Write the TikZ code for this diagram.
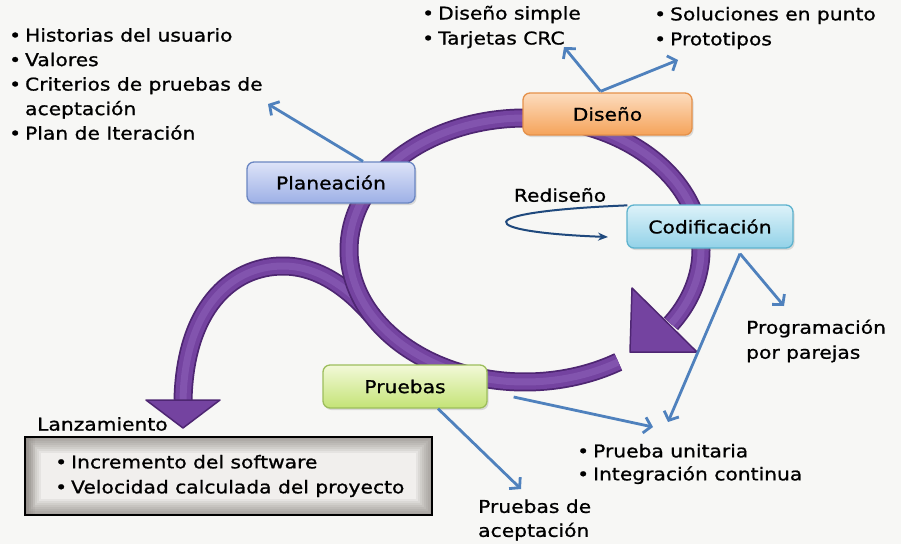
\documentclass[tikz,border=0pt]{standalone}
\usepackage{fontspec}
\setmainfont{DejaVu Sans}[FakeStretch=1.15, FakeBold=1.0]
\usetikzlibrary{arrows.meta,calc,shadows}
\definecolor{bg}{HTML}{F7F7F5}
\definecolor{tubedark}{HTML}{4E2672}
\definecolor{tubemid}{HTML}{7443A0}
\definecolor{tubelight}{HTML}{8254AE}
\definecolor{arrowblue}{HTML}{4F81BD}
\definecolor{navy}{HTML}{1F497D}
\definecolor{plantop}{HTML}{DDE3F8}
\definecolor{planbot}{HTML}{9DB0E6}
\definecolor{planline}{HTML}{6A86C2}
\definecolor{distop}{HTML}{FCDCBE}
\definecolor{disbot}{HTML}{F5A35A}
\definecolor{disline}{HTML}{E5914A}
\definecolor{codtop}{HTML}{DDF2F9}
\definecolor{codbot}{HTML}{92D2E8}
\definecolor{codline}{HTML}{5EB3CE}
\definecolor{prutop}{HTML}{F2F9D8}
\definecolor{prubot}{HTML}{C4E376}
\definecolor{pruline}{HTML}{9DBE5C}
\definecolor{lzin}{HTML}{F1EFED}
\definecolor{lzout}{HTML}{5A534D}
\newcommand\bul{\textbullet\hspace{4pt}}
\begin{document}
\begin{tikzpicture}[x=1pt,y=-1pt,
  lbl/.style={inner sep=0pt, align=left, anchor=west, text=black},
  stage/.style={rounded corners=7pt, draw, line width=1.3pt, inner sep=0pt,
    font=\fontsize{17.6}{21}\selectfont,
    drop shadow={opacity=0.25,shadow xshift=1.5pt,shadow yshift=-2pt}},
  tube/.style={line width=19pt, draw=tubedark,
    postaction={draw=tubemid, line width=15.5pt},
    postaction={draw=tubelight, line width=7pt}},
  tubehead/.style={fill=tubemid, draw=tubedark, line width=1.5pt, line join=round},
  barrow/.style={draw=arrowblue, line width=2.8pt, -{Straight Barb[length=7pt,width=16pt]}},
  redis/.style={draw=navy, line width=2pt, -{Stealth[length=10pt,width=8pt]}}
]
\useasboundingbox (0,0) rectangle (901,544);
\fill[bg] (0,0) rectangle (901,544);

% branch towards Lanzamiento
\draw[tube] (372.6,316) .. controls (350,290) and (320,266) .. (283,266)
  .. controls (230,266) and (185,310) .. (183,400);
\filldraw[tubehead] (146,400) -- (220,400) -- (183,428) -- cycle;

% main ring
\draw[tube] plot[domain=58:394, samples=120, smooth] ({525+176*cos(\x)},{250+132*sin(\x)});
\filldraw[tubehead] (632,288) -- (697,352) -- (630,352) -- cycle;

% Rediseño loop
\coordinate (redisend) at (608,237);
\node[inner sep=0pt, font=\fontsize{17.6}{21}\selectfont] (redlbl) at (560,195) {Rediseño};

% stage boxes
\node[stage, top color=plantop, bottom color=planbot, draw=planline,
  minimum width=168pt, minimum height=41pt] (plan) at (331,182.5) {Planeación};
\node[stage, top color=distop, bottom color=disbot, draw=disline,
  minimum width=169pt, minimum height=42pt] (dis) at (607.5,114) {Diseño};
\node[stage, top color=codtop, bottom color=codbot, draw=codline,
  minimum width=166pt, minimum height=43pt] (cod) at (710,226.5) {Codificación};
\node[stage, top color=prutop, bottom color=prubot, draw=pruline,
  minimum width=164pt, minimum height=43pt] (pru) at (405,386.5) {Pruebas};

\draw[redis] ($(cod.north west)+(1,1)$) .. controls (465,212) and (475,232) .. (redisend);

% Lanzamiento box
\node[fill=lzin, minimum width=407pt, minimum height=78pt, inner sep=0pt] (lzbox) at (228.5,476) {};
\begin{scope}
  \clip (lzbox.south west) rectangle (lzbox.north east);
  \foreach \w in {32,28,24,20,16,12,8,4}
    \draw[draw=lzout, opacity=0.075, line width=\w pt] (lzbox.south west) rectangle (lzbox.north east);
  \foreach \w in {20,16,12,8,4}
    \draw[draw=lzout, opacity=0.06, line width=\w pt] (lzbox.south west) -- (lzbox.north west);
\end{scope}
\draw[black, line width=2pt] (lzbox.south west) rectangle (lzbox.north east);

% free ends
\coordinate (crit) at (268,104);
\coordinate (crc) at (564,47);
\coordinate (proto) at (678,60);
\coordinate (pareja) at (784,306);
\coordinate (unit) at (668,422);
\coordinate (unit2) at (653,427);
\coordinate (acept) at (521,489);

% blue arrows
\draw[barrow] ($(plan.north)+(32,0)$) -- (crit);
\draw[barrow] ($(dis.north)+(-7,-1)$) -- (crc);
\draw[barrow] ($(dis.north)+(-7,-1)$) -- (proto);
\draw[barrow] ($(cod.south)+(30,5)$) -- (pareja);
\draw[barrow] ($(cod.south)+(30,5)$) -- (unit);
\draw[barrow] ($(pru.east)+(26,10.5)$) -- (unit2);
\draw[barrow] ($(pru.south)+(33,0)$) -- (acept);

% texts
\node[lbl, font=\fontsize{17.6}{24.5}\selectfont] (toplist) at (9,84)
  {\bul Historias del usuario\\ \bul Valores\\ \bul Criterios de pruebas de\\ \hphantom{\bul}aceptación\\ \bul Plan de Iteración};
\node[lbl, font=\fontsize{17.6}{25}\selectfont] (dislist) at (422,27)
  {\bul Diseño simple\\ \bul Tarjetas CRC};
\node[lbl, font=\fontsize{17.6}{25}\selectfont] (sollist) at (654,28)
  {\bul Soluciones en punto\\ \bul Prototipos};
\node[lbl, font=\fontsize{17.6}{25}\selectfont] (prog) at (746,341)
  {Programación\\ por parejas};
\node[lbl, font=\fontsize{17.6}{23}\selectfont] (unitlist) at (577,464)
  {\bul Prueba unitaria\\ \bul Integración continua};
\node[lbl, font=\fontsize{17.6}{24}\selectfont] (aceplbl) at (478,520)
  {Pruebas de\\ aceptación};
\node[lbl, font=\fontsize{17.6}{21}\selectfont] (lanz) at (37,424) {Lanzamiento};
\node[lbl, font=\fontsize{17.6}{25}\selectfont] (lztext) at (55,476)
  {\bul Incremento del software\\ \bul Velocidad calculada del proyecto};
\end{tikzpicture}
\end{document}
